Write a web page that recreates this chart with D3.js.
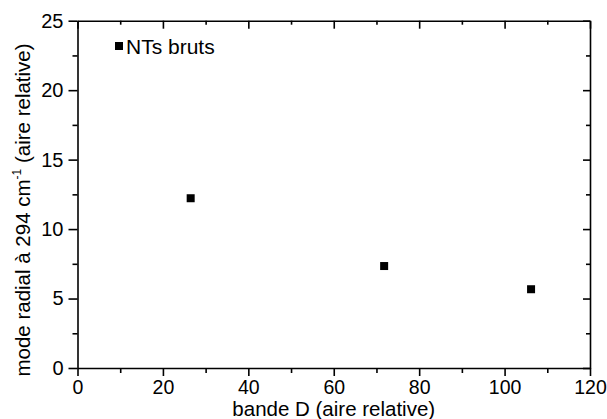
<!DOCTYPE html>
<html><head><meta charset="utf-8">
<script src="https://cdn.jsdelivr.net/npm/d3@7"></script>
<style>
html,body{margin:0;padding:0;background:#fff;}
svg text{font-family:"Liberation Sans",Arial,sans-serif;fill:#000;}
</style></head>
<body><svg id="c" width="607" height="419"></svg>
<script>
const xValues = [26.5, 71.8, 106.2];
const yValues = [12.22, 7.34, 5.67];
const seriesName = "NTs bruts";
const xTicks = [0, 20, 40, 60, 80, 100, 120];
const yTicks = [0, 5, 10, 15, 20, 25];
const xMinor = [10, 30, 50, 70, 90, 110];
const yMinor = [2.5, 7.5, 12.5, 17.5, 22.5];
const xTitle = "bande D (aire relative)";

const svg = d3.select("#c");
const L = 77.5, R = 590, T = 20.7, B = 368;
const x = d3.scaleLinear().domain([0, 120]).range([L, R]);
const y = d3.scaleLinear().domain([0, 25]).range([B, T]);
const sw = 1.6;

function styleAxis(g, fs){
  g.select(".domain").attr("stroke","#000").attr("stroke-width",sw);
  g.selectAll(".tick line").attr("stroke","#000").attr("stroke-width",sw);
  g.selectAll("text").attr("font-size",fs).attr("fill","#000")
    .style("font-family","'Liberation Sans',Arial,sans-serif");
}
// bottom
const gB = svg.append("g").attr("transform",`translate(0,${B})`)
  .call(d3.axisBottom(x).tickValues(xTicks).tickSize(8).tickSizeOuter(0).tickPadding(4.5).tickFormat(d3.format("d")));
styleAxis(gB, "19.5px");
svg.append("g").attr("transform",`translate(0,${B})`)
  .call(d3.axisBottom(x).tickValues(xMinor).tickSize(5).tickSizeOuter(0).tickFormat(""))
  .call(g=>{g.select(".domain").remove();g.selectAll("line").attr("stroke","#000").attr("stroke-width",sw);});
// top (inward)
const gT = svg.append("g").attr("transform",`translate(0,${T})`)
  .call(d3.axisBottom(x).tickValues(xTicks).tickSize(8).tickSizeOuter(0).tickFormat(""));
styleAxis(gT, "20px");
svg.append("g").attr("transform",`translate(0,${T})`)
  .call(d3.axisBottom(x).tickValues(xMinor).tickSize(4).tickSizeOuter(0).tickFormat(""))
  .call(g=>{g.select(".domain").remove();g.selectAll("line").attr("stroke","#000").attr("stroke-width",sw);});
// left
const gL = svg.append("g").attr("transform",`translate(${L},0)`)
  .call(d3.axisLeft(y).tickValues(yTicks).tickSize(9).tickSizeOuter(0).tickPadding(5).tickFormat(d3.format("d")));
styleAxis(gL, "20px");
svg.append("g").attr("transform",`translate(${L},0)`)
  .call(d3.axisLeft(y).tickValues(yMinor).tickSize(5).tickSizeOuter(0).tickFormat(""))
  .call(g=>{g.select(".domain").remove();g.selectAll("line").attr("stroke","#000").attr("stroke-width",sw);});
// right (inward)
const gR = svg.append("g").attr("transform",`translate(${R},0)`)
  .call(d3.axisLeft(y).tickValues(yTicks).tickSize(7).tickSizeOuter(0).tickFormat(""));
styleAxis(gR, "20px");
svg.append("g").attr("transform",`translate(${R},0)`)
  .call(d3.axisLeft(y).tickValues(yMinor).tickSize(4).tickSizeOuter(0).tickFormat(""))
  .call(g=>{g.select(".domain").remove();g.selectAll("line").attr("stroke","#000").attr("stroke-width",sw);});

// points
const m = 8;
svg.append("g").selectAll("rect").data(xValues.map((v,i)=>[v,yValues[i]])).join("rect")
  .attr("x",d=>x(d[0])-m/2).attr("y",d=>y(d[1])-m/2).attr("width",m).attr("height",m).attr("fill","#000");

// legend
svg.append("rect").attr("x",115).attr("y",42).attr("width",m).attr("height",m).attr("fill","#000");
svg.append("text").attr("x",126).attr("y",54).attr("font-size","21px").text(seriesName);

// x title
svg.append("text").attr("x",(L+R)/2).attr("y",415.5).attr("text-anchor","middle").attr("font-size","20.5px").text(xTitle);
// y title
const yt = svg.append("text").attr("transform","translate(30,210) rotate(-90)").attr("text-anchor","middle").attr("font-size","20.5px");
yt.append("tspan").text("mode radial à 294 cm");
yt.append("tspan").attr("font-size","12px").attr("dy","-9").text("-1");
yt.append("tspan").attr("dy","9").text(" (aire relative)");
</script></body></html>
